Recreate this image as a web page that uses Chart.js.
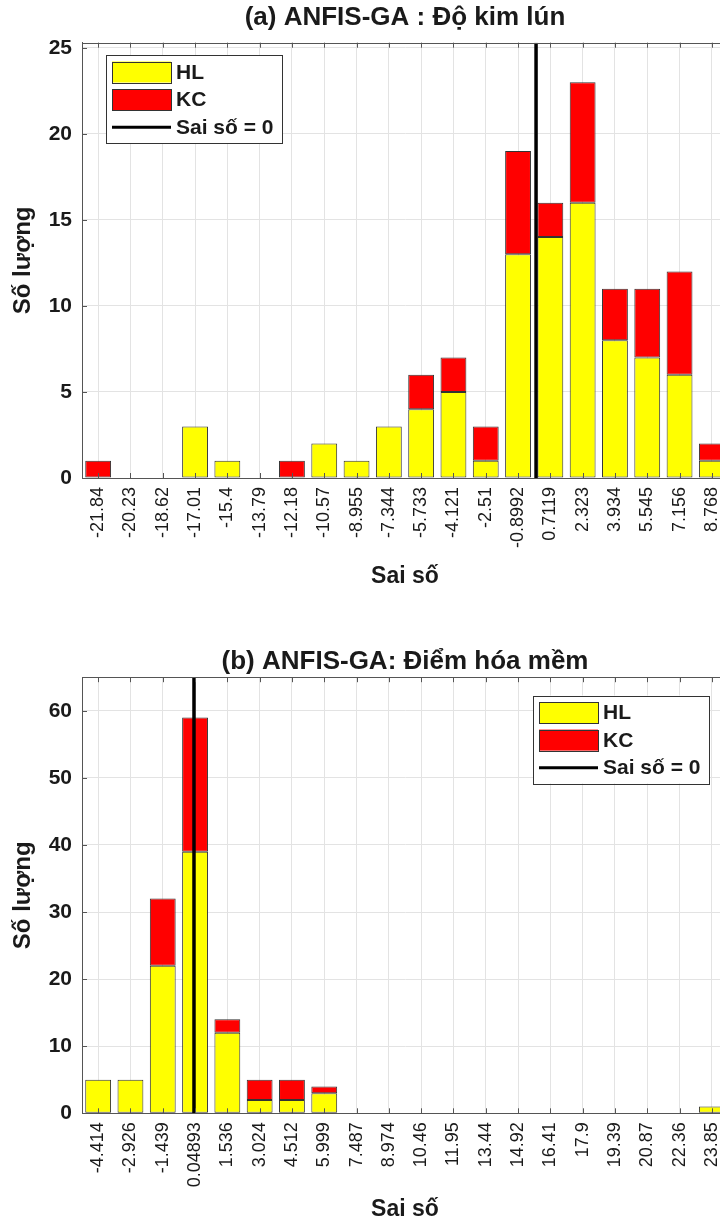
<!DOCTYPE html>
<html>
<head>
<meta charset="utf-8">
<script src="https://cdn.jsdelivr.net/npm/chart.js@4.4.1/dist/chart.umd.min.js"></script>
<style>
  html, body { margin: 0; padding: 0; background: #fff; overflow: hidden; width: 720px; height: 1223px; }
  .wrap { position: absolute; left: 0; }
</style>
</head>
<body>
<div class="wrap" style="top:0px"><canvas id="chartA" width="810" height="620"></canvas></div>
<div class="wrap" style="top:620px"><canvas id="chartB" width="810" height="603"></canvas></div>
<script>
// (a) Độ kim lún
const binsA = ['-21.84', '-20.23', '-18.62', '-17.01', '-15.4', '-13.79', '-12.18', '-10.57', '-8.955', '-7.344',
               '-5.733', '-4.121', '-2.51', '-0.8992', '0.7119', '2.323', '3.934', '5.545', '7.156', '8.768'];
const hlA = [0, 0, 0, 3, 1, 0, 0, 2, 1, 3, 4, 5, 1, 13, 14, 16, 8, 7, 6, 1];
const kcA = [1, 0, 0, 0, 0, 0, 1, 0, 0, 0, 2, 2, 2, 6, 2, 7, 3, 4, 6, 1];

// (b) Điểm hóa mềm
const binsB = ['-4.414', '-2.926', '-1.439', '0.04893', '1.536', '3.024', '4.512', '5.999', '7.487', '8.974',
               '10.46', '11.95', '13.44', '14.92', '16.41', '17.9', '19.39', '20.87', '22.36', '23.85'];
const hlB = [5, 5, 22, 39, 12, 2, 2, 3, 0, 0, 0, 0, 0, 0, 0, 0, 0, 0, 0, 1];
const kcB = [0, 0, 10, 20, 2, 3, 3, 1, 0, 0, 0, 0, 0, 0, 0, 0, 0, 0, 0, 0];

const zeroError = 0;
const seriesNames = ['HL', 'KC', 'Sai số = 0'];

const FONT = "'Liberation Sans', Arial, sans-serif";
const TXT = '#1a1a1a';
const EDGE = '#555555';
Chart.defaults.font.family = FONT;
Chart.defaults.color = TXT;

// inward tick marks + closing the box, like matlab axes
const framePlugin = {
  id: 'frame',
  afterDatasetsDraw(chart) {
    const { ctx, chartArea: a, scales } = chart;
    ctx.save();
    ctx.strokeStyle = EDGE;
    ctx.lineWidth = 1;
    ctx.beginPath();
    scales.x.ticks.forEach((t, i) => {
      const px = Math.round(scales.x.getPixelForTick(i)) + 0.5;
      ctx.moveTo(px, a.bottom); ctx.lineTo(px, a.bottom - 5);
      ctx.moveTo(px, a.top); ctx.lineTo(px, a.top + 5);
    });
    scales.y.ticks.forEach(t => {
      const py = Math.round(scales.y.getPixelForValue(t.value)) + 0.5;
      ctx.moveTo(a.left, py); ctx.lineTo(a.left + 5, py);
      ctx.moveTo(a.right, py); ctx.lineTo(a.right - 5, py);
    });
    ctx.stroke();
    ctx.strokeRect(Math.round(a.left) + 0.5, Math.round(a.top) + 0.5, Math.round(a.right - a.left), Math.round(a.bottom - a.top));
    ctx.restore();
  }
};

// legend box inside the plot area
const boxLegend = {
  id: 'boxLegend',
  afterDatasetsDraw(chart, args, opts) {
    const { ctx, chartArea: a } = chart;
    const w = 176, h = 88;
    const x = opts.right != null ? a.right - opts.right - w : a.left + opts.left;
    const y = a.top + opts.top;
    ctx.save();
    ctx.fillStyle = '#fff';
    ctx.fillRect(x, y, w, h);
    ctx.strokeStyle = '#333';
    ctx.lineWidth = 1;
    ctx.strokeRect(Math.round(x) + 0.5, Math.round(y) + 0.5, w, h);
    ctx.font = 'bold 21px ' + FONT;
    ctx.textBaseline = 'middle';
    chart.data.datasets.forEach((ds, i) => {
      const cy = y + 17 + i * 27.6;
      if (ds.type === 'bar') {
        ctx.fillStyle = ds.backgroundColor;
        ctx.fillRect(x + 6, cy - 10.5, 59, 21);
        ctx.strokeStyle = '#333';
        ctx.strokeRect(Math.round(x + 6) + 0.5, Math.round(cy - 10.5) + 0.5, 59, 21);
      } else {
        ctx.strokeStyle = ds.borderColor;
        ctx.lineWidth = 3;
        ctx.beginPath();
        ctx.moveTo(x + 6, cy); ctx.lineTo(x + 65, cy);
        ctx.stroke();
        ctx.lineWidth = 1;
      }
      ctx.fillStyle = TXT;
      ctx.fillText(ds.label, x + 70, cy + 1);
    });
    ctx.restore();
  }
};

function histChart(id, p) {
  const n = p.bins.length;
  const first = Number(p.bins[0]), last = Number(p.bins[n - 1]);
  const step = (last - first) / (n - 1);
  return new Chart(document.getElementById(id), {
    data: {
      labels: p.bins,
      datasets: [
        { type: 'bar', label: seriesNames[0], data: p.hl, backgroundColor: '#ffff00', borderColor: '#333333',
          borderWidth: 1, borderSkipped: false, stack: 'h', order: 2 },
        { type: 'bar', label: seriesNames[1], data: p.kc, backgroundColor: '#ff0000', borderColor: '#333333',
          borderWidth: 1, borderSkipped: false, stack: 'h', order: 2 },
        { type: 'line', label: seriesNames[2], xAxisID: 'xz', stack: 'z', order: 1,
          data: [{ x: zeroError, y: 0 }, { x: zeroError, y: p.yMax }],
          borderColor: '#000', borderWidth: 3.5, pointRadius: 0 }
      ]
    },
    options: {
      responsive: false,
      animation: false,
      layout: { padding: 0 },
      datasets: { bar: { categoryPercentage: 1, barPercentage: 0.8, grouped: false } },
      plugins: {
        legend: { display: false },
        tooltip: { enabled: false },
        title: { display: true, text: p.title, color: TXT, font: { size: 26, weight: 'bold' },
                 padding: p.titlePad },
        boxLegend: p.legendAt
      },
      scales: {
        x: {
          type: 'category', stacked: true, offset: true,
          grid: { offset: false, color: '#e3e3e3', drawTicks: false },
          border: { color: EDGE },
          ticks: { minRotation: 90, maxRotation: 90, autoSkip: false, padding: 9, color: TXT,
                   font: { size: 18 } },
          title: { display: true, text: 'Sai số', color: TXT, font: { size: 23, weight: 'bold' },
                   padding: { top: 0, bottom: p.xTitlePad } },
          afterFit: s => { s.height = p.xAxisH; }
        },
        xz: { type: 'linear', display: false, min: first - step / 2, max: last + step / 2 },
        y: {
          stacked: true, min: 0, max: p.yMax,
          grid: { color: '#e3e3e3', drawTicks: false },
          border: { color: EDGE },
          ticks: { stepSize: p.yStep, includeBounds: false, padding: 10, color: TXT,
                   font: { size: 21, weight: 'bold' } },
          title: { display: true, text: 'Số lượng', color: TXT, font: { size: 24, weight: 'bold' },
                   padding: { top: 9, bottom: 0 } },
          afterFit: s => { s.width = 82; }
        },
        // empty right-hand axis so the plot is centred under the title
        yr: {
          type: 'linear', position: 'right', display: true,
          grid: { display: false }, border: { display: false }, ticks: { display: false },
          afterFit: s => { s.width = 82; }
        }
      }
    },
    plugins: [framePlugin, boxLegend]
  });
}

histChart('chartA', {
  bins: binsA, hl: hlA, kc: kcA, yMax: 25.3, yStep: 5,
  title: '(a) ANFIS-GA : Độ kim lún',
  titlePad: { top: 2.5, bottom: 9 },
  xAxisH: 142, xTitlePad: 30,
  legendAt: { left: 24, top: 12.3 }
});

histChart('chartB', {
  bins: binsB, hl: hlB, kc: kcB, yMax: 65, yStep: 10,
  title: '(b) ANFIS-GA: Điểm hóa mềm',
  titlePad: { top: 26, bottom: 0 },
  xAxisH: 109.7, xTitlePad: 0,
  legendAt: { right: 19, top: 18.3 }
});
</script>
</body>
</html>
